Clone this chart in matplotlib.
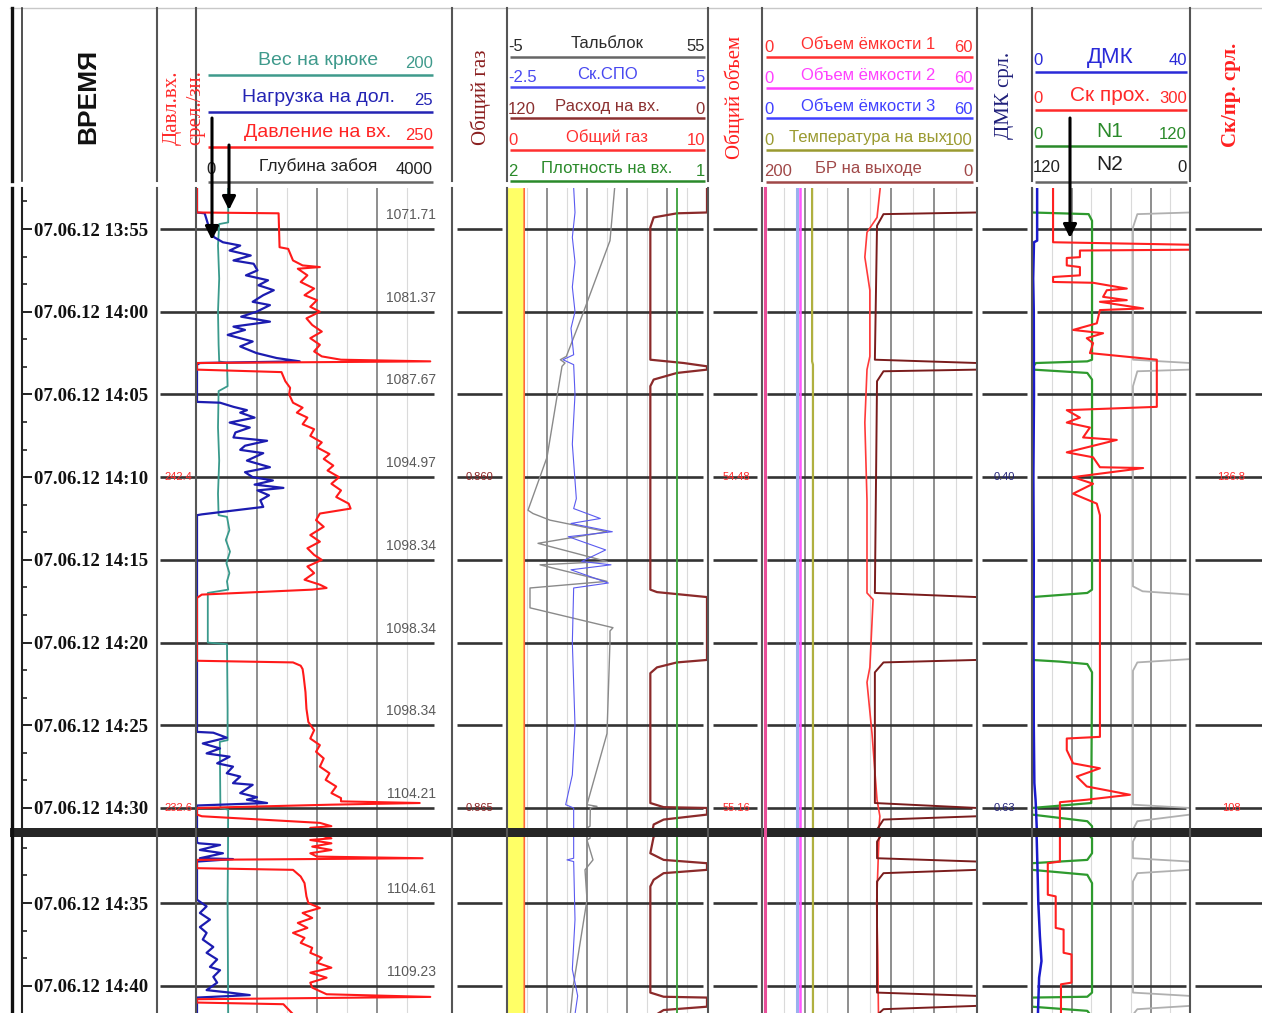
import matplotlib.pyplot as plt
from matplotlib.patches import Rectangle

# ---- data: time = minutes after 13:50 (07.06.12) ----
hook = [(2.5, 26), (4.6, 26), (4.7, 18.5), (6.0, 17.5), (8.0, 18.5), (10.0, 17.5), (12.0, 18.0),
        (13.0, 18.5), (13.1, 25.0), (14.5, 25.5), (14.8, 18.0), (17.0, 17.5), (19.0, 18.5),
        (21.0, 17.5), (22.3, 18.0), (22.4, 25.0), (23.2, 27.0), (23.8, 24.0), (24.5, 27.5),
        (25.2, 24.5), (25.8, 27.0), (26.3, 25.0), (26.8, 26.0), (27.0, 9.0), (30.0, 9.0),
        (30.1, 25.0), (34.0, 25.5), (35.9, 25.5), (36.0, 19.0), (40.0, 19.5), (40.1, 26.0),
        (45.0, 25.5), (51.7, 26.0)]

wob = [(2.5, 0), (4.0, 0), (4.05, 0.8), (5.0, 1.3), (5.5, 1.8), (5.8, 2.7), (6.0, 4.5), (6.3, 3.4),
       (6.6, 5.6), (6.9, 3.8), (7.1, 5.9), (7.5, 6.3), (7.8, 5.1), (8.1, 7.4), (8.4, 6.4), (8.7, 8.0),
       (9.0, 6.9), (9.4, 5.8), (9.6, 7.6), (10.0, 6.2), (10.3, 4.6), (10.6, 7.6), (10.9, 3.8),
       (11.1, 5.0), (11.4, 3.2), (11.8, 5.8), (12.1, 4.5), (12.5, 6.2), (12.8, 8.3), (13.0, 10.7),
       (13.1, 0.3), (13.2, 0),
       (15.45, 0), (15.5, 2.4), (15.75, 3.8), (15.95, 5.2), (16.1, 4.5), (16.4, 6.0), (16.7, 3.4),
       (17.0, 5.5), (17.3, 4.0), (17.6, 3.8), (17.8, 7.3), (18.1, 5.0), (18.35, 4.5), (18.55, 6.9),
       (19.0, 5.2), (19.4, 7.6), (19.7, 5.0), (20.0, 5.8), (20.2, 7.9), (20.45, 6.0), (20.65, 9.0),
       (20.8, 6.3), (21.1, 7.5), (21.4, 6.6), (21.8, 6.9), (22.25, 0.5), (22.3, 0),
       (35.4, 0), (35.45, 1.7), (35.75, 3.1), (36.1, 0.6), (36.4, 2.4), (36.7, 1.0), (36.9, 3.4),
       (37.3, 2.1), (37.5, 3.75), (37.9, 3.1), (38.1, 4.5), (38.5, 3.75), (38.6, 5.8), (39.1, 4.5),
       (39.35, 6.25), (39.5, 5.2), (39.7, 7.3), (39.85, 0),
       (41.35, 0), (41.4, 0.2), (41.5, 2.4), (41.8, 0.3), (42.0, 2.7), (42.3, 0.3), (42.35, 3.75),
       (42.5, 0), (44.8, 0), (45.2, 1.0), (45.6, 0.3), (46.0, 1.35), (46.45, 0.3), (46.8, 1.0),
       (47.2, 0.6), (47.65, 1.7), (48.0, 1.0), (48.4, 2.1), (48.85, 1.35), (49.05, 2.4),
       (49.45, 1.7), (49.8, 2.1), (50.25, 1.0), (50.4, 3.4), (50.55, 5.5), (50.7, 0), (51.7, 0)]

press = [(2.5, 0), (4.0, 0), (4.05, 85), (6.1, 86), (6.2, 95), (6.9, 100), (7.2, 110), (7.3, 128),
         (7.4, 105), (7.8, 115), (8.2, 108), (8.6, 122), (9.0, 112), (9.3, 125), (9.7, 118),
         (10.0, 128), (10.4, 114), (10.8, 120), (11.2, 130), (11.6, 118), (12.0, 128), (12.4, 122),
         (12.7, 130), (12.9, 150), (13.0, 243), (13.1, 0), (13.5, 0), (13.65, 88), (14.2, 92),
         (14.6, 97), (15.0, 96), (15.5, 100), (15.8, 110), (16.1, 104), (16.4, 115), (16.8, 110),
         (17.1, 122), (17.5, 118), (17.9, 130), (18.2, 125), (18.6, 138), (18.9, 132), (19.3, 142),
         (19.6, 136), (20.0, 148), (20.4, 140), (20.8, 150), (21.2, 145), (21.6, 158), (21.9, 160),
         (22.2, 128), (22.6, 124), (23.0, 132), (23.5, 118), (23.9, 128), (24.3, 115), (24.7, 122),
         (25.0, 130), (25.4, 115), (25.8, 122), (26.2, 112), (26.5, 128), (26.7, 135), (26.8, 120),
         (27.1, 5), (27.3, 0), (31.1, 0), (31.2, 100), (31.4, 108), (31.6, 110), (32.0, 111),
         (33.0, 113), (34.0, 114), (34.8, 116), (35.3, 122), (35.8, 118), (36.2, 128), (36.6, 124),
         (37.0, 132), (37.5, 128), (37.9, 138), (38.3, 134), (38.7, 145), (39.1, 140), (39.4, 150),
         (39.6, 150), (39.7, 232), (39.8, 140), (40.0, 0), (40.4, 0), (40.5, 5), (40.9, 128),
         (41.1, 140), (41.2, 118), (41.4, 140), (41.6, 120), (41.8, 140), (42.0, 118), (42.2, 125),
         (42.3, 235), (42.4, 0), (42.9, 0), (43.0, 100), (43.4, 108), (43.8, 112), (44.2, 113),
         (44.6, 114), (45.0, 116), (45.3, 128), (45.6, 110), (45.9, 120), (46.2, 105), (46.5, 115),
         (46.8, 100), (47.1, 112), (47.4, 108), (47.7, 120), (48.0, 118), (48.3, 130), (48.6, 125),
         (48.9, 140), (49.2, 118), (49.5, 135), (49.8, 118), (50.1, 120), (50.5, 135), (50.66, 243),
         (50.8, 0), (51.0, 0), (51.1, 90), (51.7, 100)]

talblok = [(2.5, 27.3), (5.7, 25.9), (10.1, 17.8), (12.7, 12.8), (12.9, 11.0), (13.1, 12.4),
           (13.3, 11.5), (18.8, 7.0), (22.0, 1.3), (22.2, 2.8), (22.6, 7.9), (23.3, 25.0),
           (24.0, 4.3), (25.1, 25.0), (25.3, 4.9), (26.3, 25.0), (26.7, 1.9), (27.9, 1.9),
           (29.1, 26.8), (29.3, 25.9), (29.9, 25.9), (35.5, 25.0), (39.8, 19.0), (39.9, 22.0),
           (40.0, 20.0), (41.1, 19.9), (41.2, 19.0), (42.4, 20.8), (43.0, 18.4), (44.8, 19.0),
           (50.1, 14.8), (51.7, 14.0)]

spo = [(2.5, 0.0), (4.0, 0.05), (5.5, -0.05), (7.0, 0.05), (8.5, -0.05), (10.0, 0.05), (11.0, -0.1),
       (12.6, 0.0), (12.9, -0.4), (13.2, 0.0), (15.0, 0.05), (18.0, -0.05), (21.3, 0.1), (21.9, 0.0),
       (22.5, 1.0), (22.8, -0.1), (23.3, 1.45), (23.6, -0.2), (24.4, 1.2), (25.1, 0.3), (25.3, 1.4),
       (25.6, -0.1), (26.4, 1.3), (26.7, 0.0), (30.0, -0.05), (35.0, 0.05), (38.0, -0.05),
       (39.8, -0.3), (40.0, 0.0), (42.3, 0.0), (42.4, -0.25), (42.5, 0.0), (46.0, 0.05),
       (49.0, -0.05), (50.6, 0.15), (51.7, 0.05)]

flow = [(2.5, 0), (4.0, 0), (4.05, 18), (4.3, 32), (4.9, 34), (12.9, 34), (13.1, 14), (13.3, 0),
        (13.5, 0), (13.7, 18), (14.1, 32), (14.5, 34), (26.8, 34), (26.95, 30), (27.25, 0),
        (31.05, 0), (31.2, 18), (31.5, 30), (31.85, 34), (39.7, 34), (39.95, 26), (40.0, 0),
        (40.4, 0), (40.7, 26), (41.0, 32), (42.0, 34), (42.4, 26), (42.6, 0), (43.0, 0), (43.2, 26),
        (43.6, 32), (44.0, 34), (50.4, 34), (50.65, 26), (50.7, 0), (51.25, 0), (51.45, 26),
        (51.7, 30)]

gas = [(2.5, 0.86), (20.0, 0.86), (40.0, 0.865), (51.7, 0.865)]
dens = [(2.5, 1.15), (51.7, 1.15)]

vol1 = [(2.5, 33.0), (4.3, 32.1), (5.2, 29.3), (6.7, 28.7), (8.7, 30.1), (12.7, 30.1), (13.5, 29.3),
        (16.7, 28.7), (21.4, 29.3), (27.0, 29.3), (27.4, 31.0), (31.5, 30.1), (32.4, 29.3),
        (35.5, 30.7), (39.5, 32.1), (40.5, 32.9), (41.3, 32.6), (45.0, 32.0), (48.0, 32.3),
        (51.7, 32.5)]
vol2 = [(2.5, 10.6), (51.7, 10.6)]
vol3 = [(2.5, 9.8), (51.7, 9.8)]
temp = [(2.5, 23.3), (13.0, 23.3), (13.2, 23.7), (51.7, 23.7)]
br_out = [(2.5, 0), (4.0, 0), (4.1, 87), (4.8, 93), (12.9, 95), (13.1, 0), (13.5, 0), (13.6, 87),
          (14.2, 93), (27.0, 95), (27.25, 0), (31.05, 0), (31.2, 87), (31.8, 95), (39.7, 95),
          (40.0, 0), (40.5, 0), (40.7, 87), (41.3, 93), (42.3, 93), (42.5, 0), (43.0, 0), (43.2, 87),
          (43.7, 93), (50.4, 93), (50.6, 0), (51.2, 0), (51.4, 87), (51.7, 92)]

dmk = [(2.5, 1.3), (5.7, 1.3), (5.8, 0.5), (8.0, 0.3), (10.0, 0.45), (15.0, 0.5), (20.0, 0.35),
       (25.0, 0.45), (30.0, 0.4), (35.0, 0.45), (38.5, 0.6), (39.5, 0.9), (40.0, 1.0), (41.2, 1.2),
       (43.0, 1.4), (45.0, 1.6), (47.0, 2.0), (48.5, 2.4), (49.5, 1.8), (51.7, 1.5)]
rop = [(2.5, 40), (5.8, 40), (5.95, 300), (6.25, 300), (6.3, 91), (6.7, 91), (6.75, 66), (7.2, 66),
       (7.3, 91), (7.8, 91), (7.9, 40), (8.2, 40), (8.25, 116), (8.6, 180), (8.7, 142), (9.1, 135),
       (9.3, 180), (9.4, 129), (9.8, 211), (9.9, 129), (10.7, 123), (11.1, 78), (11.3, 135),
       (11.6, 104), (11.9, 116), (12.5, 110), (12.9, 237), (15.75, 237), (15.95, 66), (16.4, 91),
       (16.7, 66), (17.0, 110), (17.6, 97), (17.75, 161), (18.5, 66), (18.8, 116), (19.4, 129),
       (19.45, 211), (20.0, 78), (20.4, 116), (21.0, 78), (21.6, 123), (22.3, 129), (35.7, 129),
       (35.8, 66), (36.5, 66), (37.3, 78), (37.6, 129), (38.1, 85), (38.7, 104), (39.2, 186),
       (39.5, 104), (39.65, 53), (42.5, 53), (42.6, 30), (44.5, 30), (44.6, 45), (46.5, 45),
       (46.6, 60), (48.0, 60), (48.1, 75), (49.8, 75), (49.9, 55), (51.7, 55)]
n1 = [(2.5, 0), (4.0, 0), (4.1, 43), (4.5, 45.6), (12.9, 45.6), (13.0, 42), (13.1, 3), (13.4, 0),
      (13.5, 1), (13.7, 42), (14.1, 45.6), (26.8, 45.6), (27.0, 42), (27.25, 0), (31.05, 0),
      (31.15, 21), (31.3, 42), (31.8, 45.6), (39.7, 45), (40.0, 0), (40.4, 0), (40.8, 42),
      (41.1, 45.6), (42.0, 45.6), (42.4, 42), (42.6, 0), (43.0, 0), (43.3, 42), (43.8, 45.6),
      (50.4, 45.6), (50.65, 42), (50.7, 0), (51.25, 0), (51.5, 42), (51.7, 44)]
n2 = [(2.5, 0), (4.0, 0), (4.1, 40), (4.9, 43.3), (12.9, 43.3), (13.1, 0), (13.5, 0), (13.6, 40),
      (14.5, 43.3), (26.6, 43.3), (26.9, 36), (27.1, 0), (31.0, 0), (31.2, 40), (31.7, 43.3),
      (39.8, 43.3), (40.0, 0), (40.4, 0), (40.8, 40), (41.3, 43.3), (42.3, 43.3), (42.5, 0),
      (43.0, 0), (43.2, 40), (43.7, 43.3), (50.4, 43.3), (50.6, 0), (51.2, 0), (51.4, 40), (51.7, 43)]

depths = ['1071.71', '1081.37', '1087.67', '1094.97', '1098.34', '1098.34', '1098.34',
          '1104.21', '1104.61', '1109.23']
mark_times = [20, 40]
col_marks = [(178, ['242.4', '232.6'], '#ff2a2a'), (479, ['0.860', '0.865'], '#8b2020'),
             (736, ['54.48', '55.16'], '#ff2a2a'), (1004, ['0.40', '0.63'], '#22227a'),
             (1231, ['136.8', '108'], '#ff2a2a')]

SANS = 'Liberation Sans'
SERIF = 'Liberation Serif'
W, H = 1262, 1013
fig = plt.figure(figsize=(W / 100, H / 100), dpi=100)

PANELS = [(188, 828, 2.52, 41.21), (837, 1013, 41.02, 51.63)]
MAJOR_T = list(range(5, 51, 5))
MINOR_T = [m + k * 5 / 3 for m in range(0, 55, 5) for k in (1, 2)]
T1, T2, T3, T4 = (197, 437), (507, 707), (762, 977), (1032, 1190)


def rect(x0, x1, y0, y1):
    return [x0 / W, 1 - y1 / H, (x1 - x0) / W, (y1 - y0) / H]


def tlabel(m):
    mm = 50 + m
    return '07.06.12 %d:%02d' % (13 + mm // 60, mm % 60)


def grid_x(track, n):
    x0, x1 = track
    step = (x1 - x0) / n
    maj = [x0 + i * step for i in range(1, n)]
    mino = [x0 + (i + 0.5) * step for i in range(n)]
    return maj, mino


# background: grid per panel
hseg = [(160, 434), (457, 502), (507, 703), (713, 757), (767, 972), (982, 1027), (1037, 1186),
        (1195, 1262)]
vmaj, vmin = [], []
for tr, n in [(T1, 4), (T2, 5), (T3, 5), (T4, 4)]:
    a, b = grid_x(tr, n)
    vmaj += a
    vmin += b
bgs = []
for (py0, py1, t0, t1) in PANELS:
    bg = fig.add_axes(rect(0, W, py0, py1))
    bg.set_xlim(0, W)
    bg.set_ylim(t1, t0)
    bg.axis('off')
    for x in vmin:
        bg.axvline(x, color='#dadada', lw=0.8)
    for x in vmaj:
        bg.axvline(x, color='#707070', lw=1.1)
    for t in MAJOR_T:
        if t0 < t < t1:
            for a, b in hseg:
                bg.plot([a, b], [t, t], color='#333333', lw=1.9, solid_capstyle='butt')
    for t, d in zip(MAJOR_T, depths):
        if t0 < t - 0.9 and t < t1:
            bg.text(436, t - 0.85, d, ha='right', va='center', fontsize=10,
                    family=SANS, color='#5a5a5a')
    bgs.append(bg)

for x, labs, c in col_marks:
    for t, s in zip(mark_times, labs):
        bgs[0].text(x, t, s, ha='center', va='center', fontsize=8, family=SANS, color=c)


def curve(track, lim, data, color, lw=1.3, fill=None):
    t = [p[0] for p in data]
    v = [p[1] for p in data]
    for (py0, py1, t0, t1) in PANELS:
        ax = fig.add_axes(rect(track[0], track[1], py0, py1))
        ax.set_xlim(*lim)
        ax.set_ylim(t1, t0)
        ax.axis('off')
        ax.patch.set_visible(False)
        if fill:
            ax.fill_betweenx(t, lim[0], v, color=fill, lw=0)
        ax.plot(v, t, color=color, lw=lw, solid_joinstyle='round')


# track 1
curve(T1, (0, 200), hook, '#3a9a8c', 1.3)
curve(T1, (0, 25), wob, '#1c1cb0', 1.6)
curve(T1, (0, 250), press, '#ff1a1a', 1.5)
# track 2
curve(T2, (0, 10), gas, '#ff6a3a', 1.2, fill='#ffff66')
curve(T2, (-5, 55), talblok, '#8a8a8a', 1.0)
curve(T2, (-2.5, 5), spo, '#5a5af0', 0.8)
curve(T2, (120, 0), flow, '#8b2a2a', 1.6)
curve(T2, (2, 1), dens, '#3aa03a', 1.3)
# track 3
curve(T3, (0, 60), vol3, '#9ab0ee', 2.2)
curve(T3, (0, 60), vol2, '#ff55ff', 1.8)
curve(T3, (0, 100), temp, '#b0b040', 1.6)
curve(T3, (0, 60), vol1, '#ff3a3a', 1.2)
curve(T3, (200, 0), br_out, '#7a1c1c', 1.4)
# track 4
curve(T4, (120, 0), n2, '#b0b0b0', 1.3)
curve(T4, (0, 120), n1, '#2e9a2e', 1.6)
curve(T4, (0, 300), rop, '#ff2020', 1.5)
curve(T4, (0, 40), dmk, '#1a1acc', 1.8)

# time axis
for (py0, py1, t0, t1) in PANELS:
    ta = fig.add_axes(rect(22, 157, py0, py1))
    ta.set_ylim(t1, t0)
    ta.set_xlim(0, 1)
    ta.patch.set_visible(False)
    for s in ['top', 'right', 'bottom']:
        ta.spines[s].set_visible(False)
    ta.spines['left'].set_color('#222222')
    ta.spines['left'].set_linewidth(1.5)
    ta.set_xticks([])
    maj = [t for t in MAJOR_T if t0 < t < t1]
    ta.set_yticks(maj)
    ta.set_yticklabels([tlabel(t) for t in maj])
    ta.set_yticks([t for t in MINOR_T if t0 < t < t1], minor=True)
    ta.tick_params(axis='y', which='major', direction='in', length=7, width=1.4, pad=-8.5,
                   labelsize=13.5, color='#222222', labelcolor='#111111')
    ta.tick_params(axis='y', which='minor', direction='in', length=3.5, width=1.2, color='#222222')
    for lab in ta.get_yticklabels():
        lab.set_horizontalalignment('left')
        lab.set_fontfamily(SERIF)
        lab.set_fontweight('bold')

# front layer: borders, header, arrows
fc = fig.add_axes([0, 0, 1, 1])
fc.set_xlim(0, W)
fc.set_ylim(H, 0)
fc.axis('off')
fc.patch.set_visible(False)
fc.set_zorder(10)

fc.plot([10, W], [8, 8], color='#c8c8c8', lw=1)
for x in [157, 196, 452, 507, 708, 762, 977, 1032, 1190]:
    fc.plot([x, x], [8, 181], color='#555555', lw=1.5)
    fc.plot([x, x], [188, H], color='#555555', lw=1.5)
fc.plot([12, 12], [8, 181], color='#111111', lw=2.4)
fc.plot([12, 12], [188, H], color='#111111', lw=2.4)
fc.plot([22, 22], [8, 181], color='#333333', lw=1.2)
fc.plot([765, 765], [188, H], color='#e8509a', lw=2.2)
fc.add_patch(Rectangle((10, 828), W - 10, 9, color='#262626', lw=0))

# header legends
hdr = [
    (T1, (208, 433), 318, [60, 97, 132, 166], [75, 112, 147, 182],
     ['Вес на крюке', 'Нагрузка на дол.', 'Давление на вх.', 'Глубина забоя'],
     ['', '', '', '0'], ['200', '25', '250', '4000'],
     ['#3f9a8c', '#2424b4', '#ff2424', '#222222'], [14, 14, 14, 12.5]),
    (T2, (510, 705), 607, [43, 74, 106, 137, 168], [57, 87, 118, 150, 181],
     ['Тальблок', 'Ск.СПО', 'Расход на вх.', 'Общий газ', 'Плотность на вх.'],
     ['-5', '-2.5', '120', '0', '2'], ['55', '5', '0', '10', '1'],
     ['#2a2a2a', '#4848f0', '#8b3030', '#ff3030', '#2a8a2a'], [12] * 5),
    (T3, (766, 973), 868, [44, 75, 106, 137, 168], [57, 88, 118, 150, 182],
     ['Объем ёмкости 1', 'Объем ёмкости 2', 'Объем ёмкости 3', 'Температура на вых', 'БР на выходе'],
     ['0', '0', '0', '0', '200'], ['60', '60', '60', '100', '0'],
     ['#ff3030', '#ff40ff', '#4040ff', '#9a9a30', '#a04848'], [12] * 5),
    (T4, (1035, 1187), 1110, [57, 95, 131, 164], [72, 110, 146, 182],
     ['ДМК', 'Ск прох.', 'N1', 'N2'], ['0', '0', '0', '120'], ['40', '300', '120', '0'],
     ['#2a2ad8', '#ff2a2a', '#2a8a2a', '#202020'], [16, 15, 15, 15]),
]
for tr, (ux0, ux1), cx, rows, lines, names, lefts, rights, cols, sizes in hdr:
    for y, yl, nm, lv, rv, c, fs in zip(rows, lines, names, lefts, rights, cols, sizes):
        lc = '#666666' if c in ('#222222', '#2a2a2a', '#202020') else c
        fc.plot([ux0, ux1], [yl, yl], color=lc, lw=1.8, solid_capstyle='butt')
        fc.text(cx, y, nm, ha='center', va='center', fontsize=fs, family=SANS, color=c)
        fc.text(ux0 - 2, y + 3, lv, ha='left', va='center', fontsize=12, family=SANS, color=c)
        fc.text(ux1, y + 3, rv, ha='right', va='center', fontsize=12, family=SANS, color=c)

fc.text(88, 96, 'ВРЕМЯ', rotation=90, ha='center', va='center', fontsize=19,
        family=SANS, fontweight='bold', color='#111111')
fc.text(184, 108, 'Давл.вх.\nсрел./зн.', rotation=90, ha='center', va='center', fontsize=15,
        family=SERIF, color='#ff2a2a', linespacing=1.3)
fc.text(481, 97, 'Общий газ', rotation=90, ha='center', va='center', fontsize=15,
        family=SERIF, color='#8b2020')
fc.text(735, 97, 'Общий объем', rotation=90, ha='center', va='center', fontsize=15,
        family=SERIF, color='#ff2020')
fc.text(1005, 95, 'ДМК срл.', rotation=90, ha='center', va='center', fontsize=15,
        family=SERIF, color='#20207a')
fc.text(1231, 95, 'Ск/пр. срл.', rotation=90, ha='center', va='center', fontsize=15,
        family=SERIF, fontweight='bold', color='#ff2020')

arrow = dict(arrowstyle='-|>', color='black', lw=2.2, mutation_scale=20, shrinkA=0, shrinkB=0)
fc.annotate('', xy=(212, 240), xytext=(212, 118), arrowprops=arrow)
fc.annotate('', xy=(229, 210), xytext=(229, 145), arrowprops=arrow)
fc.annotate('', xy=(1070, 238), xytext=(1070, 118), arrowprops=arrow)

fig.savefig('out.png', dpi=100)
